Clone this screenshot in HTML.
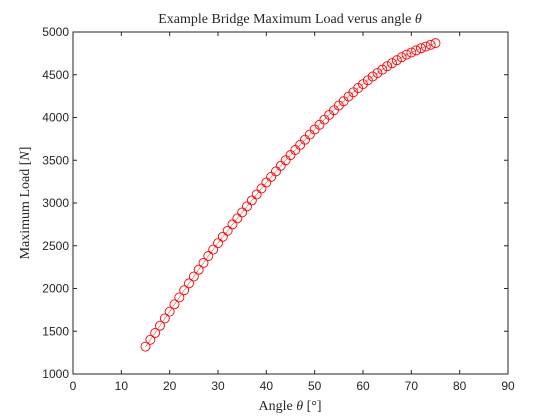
<!DOCTYPE html>
<html><head><meta charset="utf-8"><style>
body{margin:0;background:#fff}
svg{display:block}
.tk{font-family:"Liberation Sans",sans-serif;font-size:12px;fill:#262626}
.lx{font-family:"Liberation Serif",serif;font-size:14px;fill:#262626}
</style></head><body>
<svg id="chart" width="560" height="420" xmlns="http://www.w3.org/2000/svg">
<rect x="0" y="0" width="560" height="420" fill="#fff"/>
<g id="plot"></g>
<text class="lx" x="290" y="23" text-anchor="middle">Example Bridge Maximum Load verus angle <tspan font-style="italic">θ</tspan></text>
<text class="lx" x="290" y="410" text-anchor="middle">Angle <tspan font-style="italic">θ</tspan> [°]</text>
<text class="lx" transform="translate(29,203) rotate(-90)" text-anchor="middle">Maximum Load [<tspan font-style="italic">N</tspan>]</text>
</svg>
<script>
const angles=[15,16,17,18,19,20,21,22,23,24,25,26,27,28,29,30,31,32,33,34,35,36,37,38,39,40,41,42,43,44,45,46,47,48,49,50,51,52,53,54,55,56,57,58,59,60,61,62,63,64,65,66,67,68,69,70,71,72,73,74,75];
const loads=[1320,1400,1480,1565,1650,1730,1815,1895,1980,2060,2140,2220,2300,2380,2455,2530,2605,2675,2750,2820,2890,2960,3030,3100,3170,3240,3305,3370,3435,3500,3560,3620,3680,3740,3800,3860,3915,3975,4030,4085,4140,4190,4245,4295,4345,4390,4435,4480,4520,4560,4600,4635,4670,4705,4735,4760,4785,4810,4830,4850,4870];
const xTicks=[0,10,20,30,40,50,60,70,80,90];
const yTicks=[1000,1500,2000,2500,3000,3500,4000,4500,5000];
const L=73,R=508,T=32,B=374;
const X=v=>L+(v-0)/(90-0)*(R-L);
const Y=v=>B-(v-1000)/(5000-1000)*(B-T);
const NS="http://www.w3.org/2000/svg";
const g=document.getElementById('plot');
function mk(t,a){const e=document.createElementNS(NS,t);for(const k in a)e.setAttribute(k,a[k]);g.appendChild(e);return e;}
let box=mk('rect',{x:L,y:T,width:R-L,height:B-T,fill:'none',stroke:'#262626','stroke-width':1});


xTicks.forEach(v=>{
 const x=X(v);
 let l=mk('path',{d:`M${x},${B}v-4M${x},${T}v4`,stroke:'#262626'});
 
 
 let t=mk('text',{x:x,y:B+16,'text-anchor':'middle',class:'tk'});t.textContent=v;
 
 
});
yTicks.forEach(v=>{
 const y=Y(v);
 let l=mk('path',{d:`M${L},${y}h4M${R},${y}h-4`,stroke:'#262626'});
 
 
 let t=mk('text',{x:L-4,y:y+4,'text-anchor':'end',class:'tk'});t.textContent=v;
 
 
});
let line=mk('polyline',{points:angles.map((a,i)=>X(a)+','+Y(loads[i])).join(' '),fill:'none',stroke:'#ff0000','stroke-width':0.5});


angles.forEach((a,i)=>{
 let c=mk('circle',{cx:X(a),cy:Y(loads[i]),r:4.5,fill:'none',stroke:'#ff0000','stroke-width':0.9});
 
 
});
</script>
</body></html>
